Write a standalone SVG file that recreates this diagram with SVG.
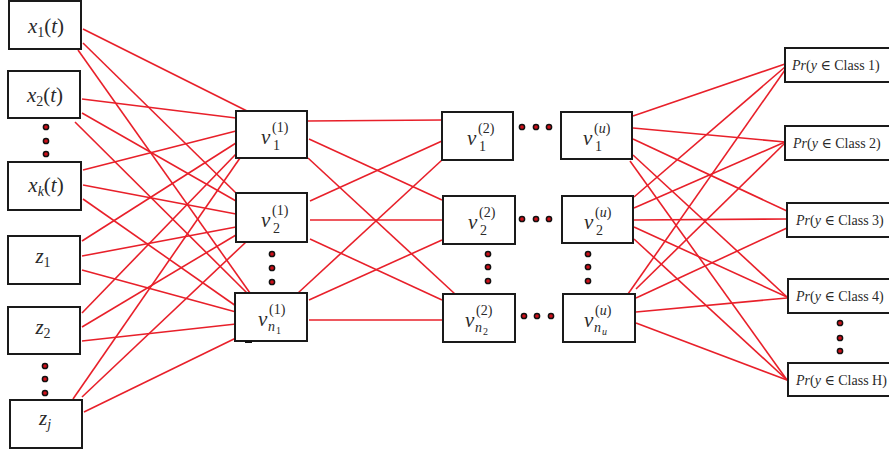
<svg xmlns="http://www.w3.org/2000/svg" width="889" height="453" viewBox="0 0 889 453">
<style>
.box{fill:#fff;stroke:#1a1a1a;stroke-width:2}
.e{stroke:#e8202a;stroke-width:1.6;fill:none}
.dot{fill:#d0101a;stroke:#111;stroke-width:1.5}
.m{font-family:"Liberation Serif","DejaVu Serif",serif;font-style:italic;font-size:21px;fill:#2a2a2a}
.s{font-size:14px;font-style:normal}
.si{font-size:14px;font-style:italic}
.ss{font-size:10px;font-style:normal}
.r{font-style:normal}
.p{font-family:"Liberation Serif","DejaVu Serif",serif;font-size:14px;fill:#2a2a2a}
.i{font-style:italic}
</style>
<g id="connectors">
<path class="e" d="M83,29 L247,111"/>
<path class="e" d="M83,43 L237,194"/>
<path class="e" d="M78,50 L250,293"/>
<path class="e" d="M82,99 L236,118"/>
<path class="e" d="M82,113 L236,201"/>
<path class="e" d="M75,122 L247,293"/>
<path class="e" d="M83,170 L236,131"/>
<path class="e" d="M83,185 L236,214"/>
<path class="e" d="M83,199 L236,306"/>
<path class="e" d="M82,241 L236,143"/>
<path class="e" d="M82,256 L236,227"/>
<path class="e" d="M82,270 L236,312"/>
<path class="e" d="M82,313 L236,154"/>
<path class="e" d="M82,327 L236,235"/>
<path class="e" d="M82,341 L236,324"/>
<path class="e" d="M73,399 L240,158"/>
<path class="e" d="M82,397 L246,242"/>
<path class="e" d="M84,412 L236,338"/>
<path class="e" d="M307,121 L442,120"/>
<path class="e" d="M309,139 L442,200"/>
<path class="e" d="M308,158 L455,294"/>
<path class="e" d="M310,201 L442,141"/>
<path class="e" d="M310,220 L442,220"/>
<path class="e" d="M310,239 L442,300"/>
<path class="e" d="M298,293 L442,160"/>
<path class="e" d="M309,300 L442,240"/>
<path class="e" d="M309,320 L442,320"/>
<path class="e" d="M633,116 L785,64"/>
<path class="e" d="M633,128 L785,142"/>
<path class="e" d="M633,139 L787,211"/>
<path class="e" d="M633,155 L787,297"/>
<path class="e" d="M630,161 L787,380"/>
<path class="e" d="M634,197 L785,67"/>
<path class="e" d="M634,208 L785,142"/>
<path class="e" d="M634,220 L787,219"/>
<path class="e" d="M634,227 L787,297"/>
<path class="e" d="M634,239 L787,380"/>
<path class="e" d="M628,294 L785,70"/>
<path class="e" d="M636,289 L785,143"/>
<path class="e" d="M636,298 L787,228"/>
<path class="e" d="M636,312 L787,298"/>
<path class="e" d="M636,323 L787,380"/>
</g>
<g id="in-x1"><rect class="box" x="9" y="1" width="72" height="48"/><text class="m" x="46" y="33" text-anchor="middle">x<tspan class="s" dy="4">1</tspan><tspan class="r" dy="-4">(</tspan>t<tspan class="r">)</tspan></text></g>
<g id="in-x2"><rect class="box" x="8" y="71" width="72" height="47"/><text class="m" x="45" y="102" text-anchor="middle">x<tspan class="s" dy="4">2</tspan><tspan class="r" dy="-4">(</tspan>t<tspan class="r">)</tspan></text></g>
<g id="in-xk"><rect class="box" x="8" y="162" width="73" height="48"/><text class="m" x="46" y="192" text-anchor="middle">x<tspan class="si" dy="4">k</tspan><tspan class="r" dy="-4">(</tspan>t<tspan class="r">)</tspan></text></g>
<g id="in-z1"><rect class="box" x="8" y="236" width="72" height="48"/><text class="m" x="43" y="263" text-anchor="middle">z<tspan class="s" dy="4">1</tspan></text></g>
<g id="in-z2"><rect class="box" x="8" y="307" width="72" height="47"/><text class="m" x="43" y="334" text-anchor="middle">z<tspan class="s" dy="4">2</tspan></text></g>
<g id="in-zj"><rect class="box" x="10" y="400" width="72" height="48"/><text class="m" x="45" y="425" text-anchor="middle">z<tspan class="si" dy="4">j</tspan></text></g>
<g id="l1-1"><rect class="box" x="236" y="111" width="71" height="47"/><text class="m" x="261" y="144">v</text><text class="m s" x="272" y="132">(1)</text><text class="m s" x="273" y="150">1</text></g>
<g id="l1-2"><rect class="box" x="236" y="193" width="71" height="49"/><text class="m" x="261" y="227">v</text><text class="m s" x="272" y="215">(1)</text><text class="m s" x="273" y="233">2</text></g>
<g id="l1-n"><rect class="box" x="235" y="293" width="72" height="48"/><rect x="245" y="341" width="7" height="2" fill="#111"/><text class="m" x="258" y="326">v</text><text class="m s" x="269" y="314">(1)</text><text class="m si" x="268" y="331">n</text><text class="m ss" x="276" y="334">1</text></g>
<g id="l2-1"><rect class="box" x="442" y="112" width="71" height="48"/><text class="m" x="467" y="145">v</text><text class="m s" x="478" y="133">(2)</text><text class="m s" x="479" y="151">1</text></g>
<g id="l2-2"><rect class="box" x="443" y="196" width="72" height="48"/><text class="m" x="468" y="229">v</text><text class="m s" x="479" y="217">(2)</text><text class="m s" x="480" y="235">2</text></g>
<g id="l2-n"><rect class="box" x="443" y="294" width="72" height="48"/><text class="m" x="465" y="327">v</text><text class="m s" x="476" y="315">(2)</text><text class="m si" x="475" y="332">n</text><text class="m ss" x="483" y="335">2</text></g>
<g id="lu-1"><rect class="box" x="561" y="112" width="71" height="47"/><text class="m" x="583" y="145">v</text><text class="m s" x="594" y="133">(<tspan class="i">u</tspan>)</text><text class="m s" x="595" y="151">1</text></g>
<g id="lu-2"><rect class="box" x="562" y="196" width="71" height="47"/><text class="m" x="584" y="229">v</text><text class="m s" x="595" y="217">(<tspan class="i">u</tspan>)</text><text class="m s" x="596" y="235">2</text></g>
<g id="lu-n"><rect class="box" x="563" y="294" width="72" height="48"/><text class="m" x="584" y="327">v</text><text class="m s" x="595" y="315">(<tspan class="i">u</tspan>)</text><text class="m si" x="594" y="332">n</text><text class="m ss i" x="602" y="335">u</text></g>
<g id="out-1"><rect class="box" x="785" y="48" width="120" height="34"/><text class="p" x="792" y="70"><tspan class="i">Pr</tspan>(<tspan class="i">y</tspan> ∈ Class 1)</text></g>
<g id="out-2"><rect class="box" x="785" y="126" width="120" height="34"/><text class="p" x="793" y="148"><tspan class="i">Pr</tspan>(<tspan class="i">y</tspan> ∈ Class 2)</text></g>
<g id="out-3"><rect class="box" x="787" y="203" width="120" height="34"/><text class="p" x="796" y="225"><tspan class="i">Pr</tspan>(<tspan class="i">y</tspan> ∈ Class 3)</text></g>
<g id="out-4"><rect class="box" x="788" y="279" width="120" height="34"/><text class="p" x="796" y="301"><tspan class="i">Pr</tspan>(<tspan class="i">y</tspan> ∈ Class 4)</text></g>
<g id="out-H"><rect class="box" x="788" y="363" width="120" height="33"/><text class="p" x="796" y="385"><tspan class="i">Pr</tspan>(<tspan class="i">y</tspan> ∈ Class H)</text></g>
<g id="dots">
<circle class="dot" cx="46" cy="127" r="2.6"/><circle class="dot" cx="46" cy="141" r="2.6"/><circle class="dot" cx="46" cy="154" r="2.6"/>
<circle class="dot" cx="45" cy="366" r="2.6"/><circle class="dot" cx="45" cy="379" r="2.6"/><circle class="dot" cx="45" cy="393" r="2.6"/>
<circle class="dot" cx="272" cy="254" r="2.6"/><circle class="dot" cx="272" cy="268" r="2.6"/><circle class="dot" cx="272" cy="282" r="2.6"/>
<circle class="dot" cx="488" cy="254" r="2.6"/><circle class="dot" cx="488" cy="267" r="2.6"/><circle class="dot" cx="488" cy="281" r="2.6"/>
<circle class="dot" cx="588" cy="254" r="2.6"/><circle class="dot" cx="588" cy="267" r="2.6"/><circle class="dot" cx="588" cy="281" r="2.6"/>
<circle class="dot" cx="522" cy="127" r="2.6"/><circle class="dot" cx="536" cy="127" r="2.6"/><circle class="dot" cx="549" cy="127" r="2.6"/>
<circle class="dot" cx="522" cy="219" r="2.6"/><circle class="dot" cx="536" cy="219" r="2.6"/><circle class="dot" cx="549" cy="219" r="2.6"/>
<circle class="dot" cx="524" cy="316" r="2.6"/><circle class="dot" cx="537" cy="316" r="2.6"/><circle class="dot" cx="551" cy="316" r="2.6"/>
<circle class="dot" cx="840" cy="323" r="2.6"/><circle class="dot" cx="840" cy="338" r="2.6"/><circle class="dot" cx="840" cy="351" r="2.6"/>
</g>
</svg>
